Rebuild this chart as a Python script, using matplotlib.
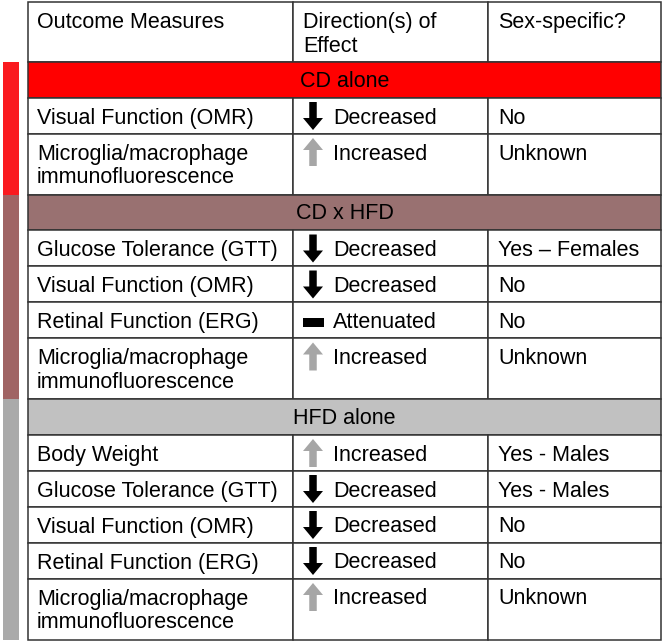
import matplotlib
matplotlib.use("Agg")
import matplotlib.pyplot as plt
from matplotlib.patches import Rectangle, Polygon

# ---- table content --------------------------------------------------------
headers = ["Outcome Measures", "Direction(s) of\nEffect", "Sex-specific?"]
groups = ["CD alone", "CD x HFD", "HFD alone"]
outcomes = [
    ["Visual Function (OMR)",
     "Microglia/macrophage\nimmunofluorescence"],
    ["Glucose Tolerance (GTT)", "Visual Function (OMR)",
     "Retinal Function (ERG)",
     "Microglia/macrophage\nimmunofluorescence"],
    ["Body Weight", "Glucose Tolerance (GTT)", "Visual Function (OMR)",
     "Retinal Function (ERG)",
     "Microglia/macrophage\nimmunofluorescence"],
]
directions = [
    ["down", "up"],
    ["down", "down", "flat", "up"],
    ["up", "down", "down", "down", "up"],
]
direction_labels = {"down": "Decreased", "up": "Increased", "flat": "Attenuated"}
sex_specific = [
    ["No", "Unknown"],
    ["Yes – Females", "No", "No", "Unknown"],
    ["Yes - Males", "Yes - Males", "No", "No", "Unknown"],
]

band_colors = ["#ff0000", "#997171", "#c1c1c1"]
side_colors = ["#fa1a1f", "#a06464", "#aaaaaa"]
arrow_colors = {"down": "black", "up": "#a6a6a6", "flat": "black"}

# ---- layout (pixels) ------------------------------------------------------
W, H = 663, 644
col_x = [28, 293, 488, 661]
top = 2
header_h = 60
band_h = 35.5
line_h = 36
extra_line = 25
pad_x = 9
pad_top = 10
FS = 15.5
LINE = "#333333"
LW = 1.1

plt.rcParams["font.family"] = ["Liberation Sans", "DejaVu Sans"]

fig = plt.figure(figsize=(W / 100, H / 100), dpi=100)
ax = fig.add_axes([0, 0, 1, 1])
ax.set_xlim(0, W)
ax.set_ylim(H, 0)
ax.axis("off")


def cell(x0, x1, y0, h, fc="white"):
    ax.add_patch(Rectangle((x0, y0), x1 - x0, h, facecolor=fc,
                           edgecolor=LINE, lw=LW, zorder=1))


def txt(x, y, s, **kw):
    ax.text(x, y, s, fontsize=FS, va="top", ha="left", color="black",
            linespacing=1.16, zorder=3, **kw)


def arrow(cx, y0, kind, color):
    h, sw, hw, hl = 28, 7.5, 20, 12
    if kind == "flat":
        ax.add_patch(Rectangle((cx - 10.5, y0 + 11), 21, 9.5,
                               facecolor=color, edgecolor="none", zorder=3))
        return
    if kind == "down":
        pts = [(cx - sw / 2, y0), (cx + sw / 2, y0),
               (cx + sw / 2, y0 + h - hl), (cx + hw / 2, y0 + h - hl),
               (cx, y0 + h), (cx - hw / 2, y0 + h - hl),
               (cx - sw / 2, y0 + h - hl)]
    else:
        pts = [(cx - sw / 2, y0 + h), (cx + sw / 2, y0 + h),
               (cx + sw / 2, y0 + hl), (cx + hw / 2, y0 + hl),
               (cx, y0), (cx - hw / 2, y0 + hl),
               (cx - sw / 2, y0 + hl)]
    ax.add_patch(Polygon(pts, closed=True, facecolor=color,
                         edgecolor="none", zorder=3))


# header row
y = top
for i, head in enumerate(headers):
    cell(col_x[i], col_x[i + 1], y, header_h)
    txt(col_x[i] + pad_x + (1 if i else 0), y + pad_top, head)
y += header_h

for g, name in enumerate(groups):
    g_start = y
    cell(col_x[0], col_x[-1], y, band_h, fc=band_colors[g])
    ax.text((col_x[0] + col_x[-1]) / 2, y + band_h / 2 + 1.5, name,
            fontsize=FS, ha="center", va="center", zorder=3)
    y += band_h
    for meas, d, sex in zip(outcomes[g], directions[g], sex_specific[g]):
        h = line_h + extra_line * meas.count("\n")
        for i in range(3):
            cell(col_x[i], col_x[i + 1], y, h)
        txt(col_x[0] + pad_x, y + pad_top, meas)
        arrow(col_x[1] + 20, y + 4.5, d, arrow_colors[d])
        txt(col_x[1] + 40, y + pad_top, direction_labels[d])
        txt(col_x[2] + pad_x + 1, y + pad_top, sex)
        y += h
    ax.add_patch(Rectangle((3, g_start), 16, y - g_start,
                           facecolor=side_colors[g], edgecolor="none"))

fig.savefig("out.png", dpi=100)
